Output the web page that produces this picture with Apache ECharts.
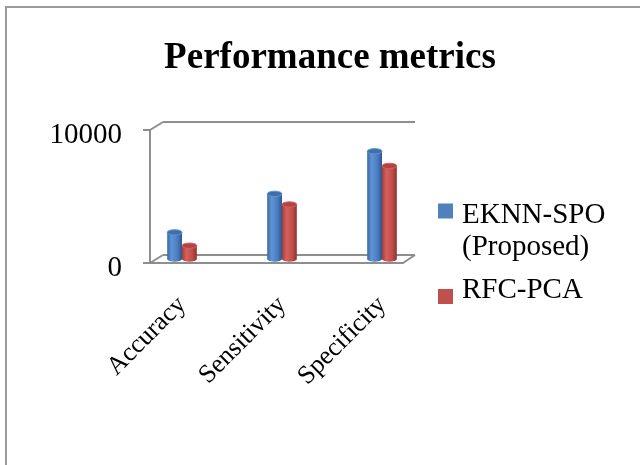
<!DOCTYPE html>
<html>
<head>
<meta charset="utf-8">
<script src="https://cdn.jsdelivr.net/npm/echarts@6/dist/echarts.min.js"></script>
<style>html,body{margin:0;padding:0;background:#fff}#c{width:640px;height:465px}</style>
</head>
<body>
<div id="c"></div>
<script>
const categories = ['Accuracy', 'Sensitivity', 'Specificity'];
const seriesNames = ['EKNN-SPO (Proposed)', 'RFC-PCA'];
const eknnSpo = [2000, 4900, 8100];
const rfcPca = [1000, 4100, 7000];
const yTicks = [0, 10000];

const SERIF = '"Liberation Serif", "Times New Roman", serif';
const FRAME = '#8e8e8e';

function ellipsePts(cx, cy, rx, ry, from, to) {
  const pts = [];
  const n = 24;
  for (let i = 0; i <= n; i++) {
    const a = from + (to - from) * i / n;
    pts.push([cx + rx * Math.cos(a), cy + ry * Math.sin(a)]);
  }
  return pts;
}

function cylinder(sign, pal) {
  return function (params, api) {
    const cat = api.value(0), val = api.value(1);
    const top = api.coord([cat, val]);
    const base = api.coord([cat, 0]);
    const band = api.size([1, 0])[0];
    const w = band * 0.148;
    const cx = top[0] + sign * w / 2;
    const rx = w / 2, ry = w * 0.18;
    const grad = new echarts.graphic.LinearGradient(0, 0, 1, 0, [
      { offset: 0, color: pal[0] },
      { offset: 0.3, color: pal[1] },
      { offset: 0.7, color: pal[2] },
      { offset: 1, color: pal[3] }
    ]);
    const bodyPts = [[cx - rx, top[1]]]
      .concat(ellipsePts(cx, base[1], rx, ry, Math.PI, 0))
      .concat([[cx + rx, top[1]]]);
    return {
      type: 'group',
      children: [
        { type: 'polygon', shape: { points: bodyPts }, style: { fill: grad } },
        { type: 'polygon', shape: { points: ellipsePts(cx, top[1], rx, ry, 0, Math.PI * 2) },
          style: { fill: pal[4], stroke: pal[1], lineWidth: 1 } }
      ]
    };
  };
}

const bluePal = ['#3a67a3', '#5f95d6', '#4a7cbf', '#2e5690', '#3f6ead'];
const redPal = ['#a13d3a', '#d6605d', '#bf4d4a', '#8e302d', '#b04542'];

const chart = echarts.init(document.getElementById('c'), null, { renderer: 'canvas' });

const legendRich = {
  a: { fontFamily: SERIF, fontSize: 29, color: '#000', lineHeight: 32, padding: [0, 0, 0, 4] },
  s: { fontFamily: SERIF, fontSize: 8, lineHeight: 40 },
  t: { fontFamily: SERIF, fontSize: 8, lineHeight: 12 }
};

chart.setOption({
  animation: false,
  backgroundColor: '#fff',
  title: {
    text: 'Performance metrics',
    left: 325, top: 35, textAlign: 'center',
    textStyle: { fontFamily: SERIF, fontSize: 37, fontWeight: 'bold', color: '#000' }
  },
  legend: [
    {
      data: [seriesNames[0]], left: 433, top: 170, icon: 'rect', itemWidth: 15, itemHeight: 15,
      formatter: function (n) {
        const p = n.split(' ');
        return '{s| }\n{a|' + p[0] + '}\n{a|' + p[1] + '}';
      },
      textStyle: { rich: legendRich }
    },
    {
      data: [seriesNames[1]], left: 433, top: 271, icon: 'rect', itemWidth: 15, itemHeight: 15,
      formatter: function (n) { return '{a|' + n + '}\n{t| }'; },
      textStyle: { rich: legendRich }
    }
  ],
  grid: [
    { left: 150, top: 130, width: 253, height: 133 },
    { left: 163, top: 122, width: 252, height: 133 },
    { left: 132, top: 126, width: 300, height: 133 }
  ],
  xAxis: [
    { gridIndex: 0, type: 'value', min: 0, max: 1,
      axisLine: { show: true, onZero: false, lineStyle: { color: FRAME, width: 2 } },
      axisTick: { show: false }, axisLabel: { show: false }, splitLine: { show: false } },
    { gridIndex: 1, type: 'value', min: 0, max: 1,
      axisLine: { show: false }, axisTick: { show: false }, axisLabel: { show: false }, splitLine: { show: false } },
    { gridIndex: 2, type: 'category', data: categories,
      axisLine: { show: false }, axisTick: { show: false },
      axisLabel: { rotate: 45, margin: 42, fontFamily: SERIF, fontSize: 26, color: '#000', interval: 0 } }
  ],
  yAxis: [
    { gridIndex: 0, type: 'value', min: yTicks[0], max: yTicks[yTicks.length - 1], interval: yTicks[1] - yTicks[0],
      axisLine: { show: true, lineStyle: { color: FRAME, width: 2 } },
      axisTick: { show: true, length: 7, lineStyle: { color: FRAME, width: 2 } },
      axisLabel: { margin: 28, fontFamily: SERIF, fontSize: 29, color: '#000',
        verticalAlign: 'top', lineHeight: 10,
        formatter: function (v) { return String(v); } },
      splitLine: { show: false } },
    { gridIndex: 1, type: 'value', min: yTicks[0], max: yTicks[yTicks.length - 1], interval: yTicks[1] - yTicks[0],
      axisLine: { show: false }, axisTick: { show: false }, axisLabel: { show: false },
      splitLine: { show: true, lineStyle: { color: FRAME, width: 2 } } },
    { gridIndex: 2, type: 'value', min: yTicks[0], max: yTicks[yTicks.length - 1], show: false }
  ],
  series: [
    { name: seriesNames[0], type: 'custom', xAxisIndex: 2, yAxisIndex: 2, z: 5,
      itemStyle: { color: '#4f81bd' },
      renderItem: cylinder(-1, bluePal),
      data: eknnSpo.map(function (v, i) { return [i, v]; }) },
    { name: seriesNames[1], type: 'custom', xAxisIndex: 2, yAxisIndex: 2, z: 5,
      itemStyle: { color: '#c0504d' },
      renderItem: cylinder(1, redPal),
      data: rfcPca.map(function (v, i) { return [i, v]; }) }
  ]
});

function px(g, p) { return chart.convertToPixel({ gridIndex: g }, p); }
const yMax = yTicks[yTicks.length - 1];
const diag = [
  [px(0, [0, yMax]), px(1, [0, yMax])],
  [px(0, [0, 0]), px(1, [0, 0])],
  [px(0, [1, 0]), px(1, [1, 0])]
];
chart.setOption({
  graphic: [
    { type: 'rect', shape: { x: 6, y: 7, width: 700, height: 500 }, z: 0,
      style: { fill: 'none', stroke: '#9a9a9a', lineWidth: 2 } }
  ].concat(diag.map(function (d) {
    return { type: 'line', z: 1, shape: { x1: d[0][0], y1: d[0][1], x2: d[1][0], y2: d[1][1] },
      style: { stroke: FRAME, lineWidth: 2 } };
  }))
});
</script>
</body>
</html>
